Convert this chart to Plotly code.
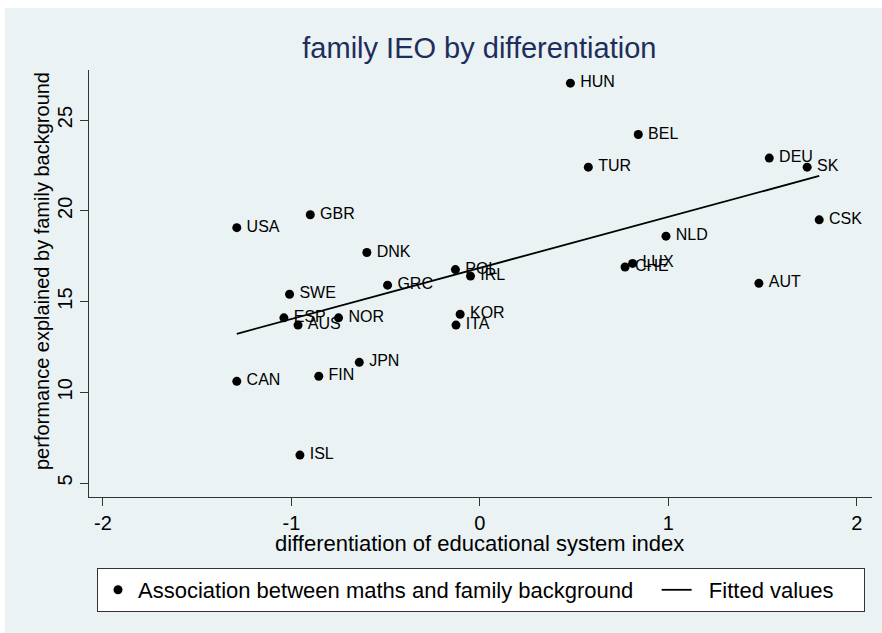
import numpy as np
import plotly.graph_objects as go

# ---- data ----
countries = ["HUN", "BEL", "TUR", "DEU", "SK", "CSK", "NLD", "LUX", "CHE", "AUT",
             "USA", "GBR", "DNK", "POL", "IRL", "GRC", "SWE", "ESP", "AUS", "NOR",
             "KOR", "ITA", "JPN", "FIN", "CAN", "ISL"]
differentiation = [0.48, 0.84, 0.575, 1.535, 1.736, 1.80, 0.987, 0.81, 0.77, 1.48,
                   -1.29, -0.90, -0.60, -0.13, -0.05, -0.49, -1.01, -1.04, -0.965, -0.75,
                   -0.105, -0.127, -0.64, -0.855, -1.29, -0.955]
family_ieo = [27.03, 24.2, 22.4, 22.9, 22.4, 19.5, 18.6, 17.1, 16.9, 16.0,
              19.07, 19.78, 17.7, 16.76, 16.4, 15.9, 15.4, 14.1, 13.7, 14.1,
              14.3, 13.7, 11.65, 10.88, 10.6, 6.54]
x_ticks = [-2, -1, 0, 1, 2]
y_ticks = [5, 10, 15, 20, 25]

# fitted values (OLS, as in the original "Fitted values" line)
slope, intercept = np.polyfit(differentiation, family_ieo, 1)
fit_x = [min(differentiation), max(differentiation)]
fit_y = [intercept + slope * v for v in fit_x]

FONT = "Liberation Sans, Arial, Helvetica, sans-serif"
BG = "#EAF2F3"
NB = "\u00a0"

fig = go.Figure()
fig.add_trace(go.Scatter(
    x=differentiation, y=family_ieo, text=["\u2009" + c for c in countries],
    mode="markers+text", textposition="middle right",
    textfont=dict(family=FONT, size=16, color="#000000"),
    marker=dict(color="#000000", size=9),
    name="Association between maths and family background" + NB * 3,
))
fig.add_trace(go.Scatter(
    x=fit_x, y=fit_y, mode="lines",
    line=dict(color="#000000", width=1.8),
    name=NB * 2 + "Fitted values" + NB * 4,
))

# plot geometry (pixels)
L, R, T, B = 89, 10, 70, 136
W, H = 882, 633
pw, ph = W - L - R, H - T - B

def px_x(p):
    return (p - L) / pw

def px_y(p):
    return (H - B - p) / ph

# light background with thin white border
fig.add_shape(type="rect", xref="paper", yref="paper",
              x0=px_x(5), x1=px_x(W + 2), y0=px_y(H + 2), y1=px_y(8),
              fillcolor=BG, line=dict(width=0), layer="below")

fig.update_layout(
    width=W, height=H,
    margin=dict(l=L, r=R, t=T, b=B, pad=0),
    paper_bgcolor="#FFFFFF", plot_bgcolor="#FFFFFF",
    font=dict(family=FONT, color="#000000"),
    title=dict(text="family IEO by differentiation", x=0.5435, xanchor="center",
               y=1 - 48 / H, yanchor="middle",
               font=dict(family=FONT, size=29, color="#1E2D5C")),
    showlegend=True,
    legend=dict(orientation="h", x=px_x(97), xanchor="left",
                y=px_y(568), yanchor="top",
                bgcolor="#FFFFFF", bordercolor="#333333", borderwidth=1,
                font=dict(family=FONT, size=22, color="#000000")),
)

fig.update_xaxes(range=[-2.074, 2.080], tickvals=x_ticks,
                 ticktext=[str(v) for v in x_ticks],
                 showgrid=False, zeroline=False,
                 showline=True, linecolor="#333333", linewidth=1,
                 ticks="outside", ticklen=8, tickcolor="#333333",
                 tickfont=dict(family=FONT, size=20, color="#000000"))
fig.update_yaxes(range=[4.229, 27.755], tickvals=y_ticks,
                 ticktext=[str(v) for v in y_ticks],
                 showgrid=True, gridcolor=BG, gridwidth=1.5, zeroline=False,
                 showline=True, linecolor="#333333", linewidth=1,
                 ticks="outside", ticklen=8, tickcolor="#333333", tickangle=-90,
                 tickfont=dict(family=FONT, size=20, color="#000000"))

# axis titles
fig.add_annotation(text="differentiation of educational system index",
                   xref="paper", yref="paper", x=px_x(479), y=px_y(543),
                   xanchor="center", yanchor="middle", showarrow=False,
                   font=dict(family=FONT, size=22, color="#000000"))
fig.add_annotation(text="performance explained by family background",
                   xref="paper", yref="paper", x=px_x(42), y=px_y(271),
                   xanchor="center", yanchor="middle", showarrow=False, textangle=-90,
                   font=dict(family=FONT, size=20, color="#000000"))

fig.write_html("out.html", config={"displayModeBar": False},
               post_script="document.body.style.margin='0px';")
